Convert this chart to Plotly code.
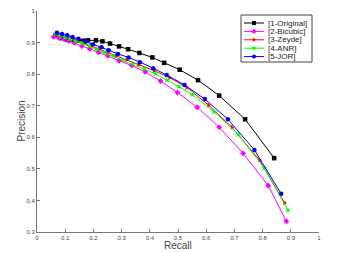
import plotly.graph_objects as go

orig_x = [0.065, 0.085, 0.105, 0.125, 0.145, 0.165, 0.181, 0.209, 0.232, 0.259, 0.291, 0.323, 0.363, 0.409, 0.451, 0.506, 0.571, 0.646, 0.738, 0.841]
orig_y = [0.922, 0.914, 0.910, 0.908, 0.906, 0.906, 0.907, 0.907, 0.904, 0.897, 0.888, 0.879, 0.867, 0.853, 0.836, 0.814, 0.781, 0.732, 0.657, 0.534]

bic_x = [0.059, 0.077, 0.096, 0.113, 0.133, 0.159, 0.187, 0.218, 0.251, 0.291, 0.336, 0.384, 0.438, 0.498, 0.568, 0.646, 0.731, 0.820, 0.884]
bic_y = [0.918, 0.915, 0.911, 0.905, 0.899, 0.889, 0.880, 0.869, 0.858, 0.842, 0.827, 0.807, 0.778, 0.742, 0.695, 0.632, 0.549, 0.447, 0.334]

zey_x = [0.068, 0.086, 0.104, 0.122, 0.142, 0.166, 0.192, 0.220, 0.250, 0.280, 0.318, 0.360, 0.415, 0.470, 0.531, 0.608, 0.691, 0.789, 0.878]
zey_y = [0.928, 0.923, 0.918, 0.912, 0.906, 0.898, 0.889, 0.879, 0.869, 0.858, 0.845, 0.830, 0.811, 0.789, 0.758, 0.702, 0.632, 0.528, 0.392]

anr_x = [0.065, 0.082, 0.100, 0.118, 0.138, 0.160, 0.185, 0.212, 0.240, 0.270, 0.305, 0.340, 0.380, 0.420, 0.460, 0.503, 0.551, 0.628, 0.714, 0.806, 0.890]
anr_y = [0.928, 0.922, 0.917, 0.911, 0.905, 0.897, 0.889, 0.879, 0.869, 0.858, 0.845, 0.832, 0.817, 0.801, 0.781, 0.761, 0.735, 0.681, 0.609, 0.502, 0.369]

jor_x = [0.071, 0.089, 0.107, 0.126, 0.147, 0.173, 0.199, 0.229, 0.254, 0.287, 0.325, 0.365, 0.412, 0.460, 0.523, 0.595, 0.677, 0.771, 0.866]
jor_y = [0.931, 0.927, 0.923, 0.918, 0.912, 0.903, 0.895, 0.885, 0.876, 0.864, 0.853, 0.838, 0.819, 0.797, 0.766, 0.721, 0.657, 0.560, 0.421]

names = ["[1-Original]", "[2-Bicubic]", "[3-Zeyde]", "[4-ANR]", "[5-JOR]"]
colors = ["black", "#ff00ff", "#ff0000", "#00ff00", "#0000ff"]
symbols = ["square", "diamond", "triangle-right", "star", "circle"]
xs_all = [orig_x, bic_x, zey_x, anr_x, jor_x]
ys_all = [orig_y, bic_y, zey_y, anr_y, jor_y]

x_ticks = [0, 0.1, 0.2, 0.3, 0.4, 0.5, 0.6, 0.7, 0.8, 0.9, 1]
x_labels = ["0", "0.1", "0.2", "0.3", "0.4", "0.5", "0.6", "0.7", "0.8", "0.9", "1"]
y_ticks = [0.3, 0.4, 0.5, 0.6, 0.7, 0.8, 0.9, 1]
y_labels = ["0.3", "0.4", "0.5", "0.6", "0.7", "0.8", "0.9", "1"]

# page body has an 8px margin; figure is placed at (8, 8)
OFF = 8
WIN_W, WIN_H = 343, 253
PX0, PX1, PY0, PY1 = 37, 319, 11, 232   # plot area in window pixels
W, H = WIN_W - OFF, WIN_H - OFF
L, R, T, B = PX0 - OFF, WIN_W - PX1, PY0 - OFF, WIN_H - PY1

fig = go.Figure()
for name, xs, ys, col, sym in zip(names, xs_all, ys_all, colors, symbols):
    fig.add_trace(go.Scatter(
        x=xs, y=ys, name=name, mode="lines+markers",
        line=dict(color=col, width=1),
        marker=dict(color=col, symbol=sym, size=4.5),
        showlegend=False,
    ))

# compact legend drawn on an overlay axis measured in window pixels
box_x0, box_x1, box_y0, box_y1 = 241, 312, 15, 62
row0, row_gap = 23, 8.4
line_x0, line_x1, text_x = 244, 264, 266
shapes = [dict(type="rect", xref="x2", yref="y2", x0=box_x0, x1=box_x1, y0=box_y0, y1=box_y1,
               line=dict(color="#444", width=1), fillcolor="white", layer="below")]
annotations = []
for i, (name, col, sym) in enumerate(zip(names, colors, symbols)):
    ry = row0 + i * row_gap
    fig.add_trace(go.Scatter(
        x=[line_x0, line_x1], y=[ry, ry], xaxis="x2", yaxis="y2", mode="lines",
        line=dict(color=col, width=1), showlegend=False, hoverinfo="skip",
    ))
    fig.add_trace(go.Scatter(
        x=[(line_x0 + line_x1) / 2], y=[ry], xaxis="x2", yaxis="y2", mode="markers",
        marker=dict(color=col, symbol=sym, size=4), showlegend=False, hoverinfo="skip",
    ))
    annotations.append(dict(xref="x2", yref="y2", x=text_x, y=ry, text=name, showarrow=False,
                            xanchor="left", yanchor="middle",
                            font=dict(size=8, color="#222")))

fig.update_layout(
    width=W, height=H,
    margin=dict(l=L, r=R, t=T, b=B, pad=0),
    paper_bgcolor="white", plot_bgcolor="white",
    font=dict(family="Liberation Sans, Arial, sans-serif", color="#333"),
    showlegend=False,
    shapes=shapes,
    annotations=annotations + [
        dict(xref="paper", yref="paper", x=0.5, y=0, yshift=-13, text="Recall", showarrow=False,
             xanchor="center", yanchor="middle", font=dict(size=10, color="#444")),
        dict(xref="paper", yref="paper", x=0, y=0.5, xshift=-16, text="Precision", showarrow=False,
             textangle=-90, xanchor="center", yanchor="middle", font=dict(size=10, color="#444")),
    ],
    xaxis=dict(
        range=[0, 1], tickvals=x_ticks, ticktext=x_labels, automargin=False,
        showgrid=False, zeroline=False, showline=True, linecolor="#777", linewidth=1,
        ticks="inside", ticklen=3, tickcolor="#777",
        tickfont=dict(size=6, color="#444"),
    ),
    yaxis=dict(
        range=[0.3, 1], tickvals=y_ticks, ticktext=y_labels, automargin=False,
        showgrid=False, zeroline=False, showline=True, linecolor="#777", linewidth=1,
        ticks="inside", ticklen=3, tickcolor="#777",
        tickfont=dict(size=6, color="#444"),
    ),
    xaxis2=dict(range=[PX0, PX1], overlaying="x", visible=False, fixedrange=True),
    yaxis2=dict(range=[PY1, PY0], overlaying="y", visible=False, fixedrange=True),
)

fig.write_html("out.html")
